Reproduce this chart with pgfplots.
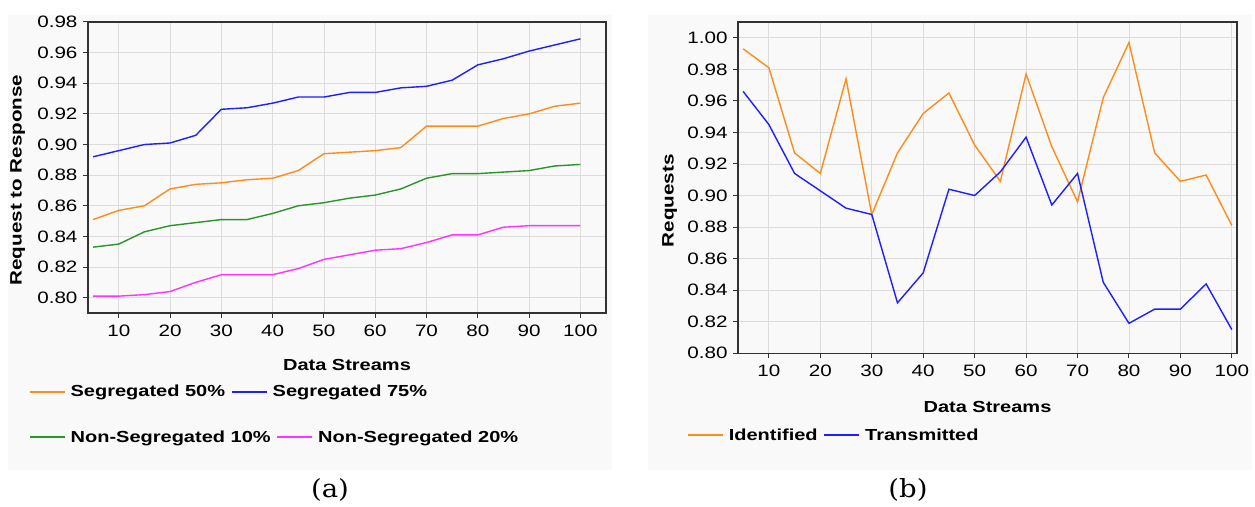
\documentclass[border=0pt]{standalone}
\usepackage{fontspec}
\setmainfont{Liberation Sans}[FakeStretch=1.25]
\newfontfamily\capfont{DejaVu Serif}[FakeStretch=1.1]
\usepackage{pgfplots}
\pgfplotsset{compat=1.18}
\definecolor{corange}{RGB}{255,140,26}
\definecolor{cblue}{RGB}{30,30,255}
\definecolor{cgreen}{RGB}{40,150,40}
\definecolor{cmag}{RGB}{255,50,255}
\definecolor{gridc}{RGB}{220,220,220}
\definecolor{axc}{RGB}{50,50,50}
\definecolor{bgc}{RGB}{249,249,249}
\pgfplotsset{
  common/.style={
    scale only axis,
    axis line style={axc, line width=1.3pt},
    grid=major,
    major grid style={gridc, line width=0.8pt},
    tick align=outside,
    tick pos=left,
    major tick length=5pt,
    tick style={axc, line width=1pt},
    xtick={10,20,30,40,50,60,70,80,90,100},
    tick label style={font=\fontsize{16.5}{19}\selectfont},
    xticklabel style={yshift=-3pt},
    /pgf/number format/assume math mode=true,
    yticklabel style={xshift=-2pt,/pgf/number format/fixed,/pgf/number format/fixed zerofill,/pgf/number format/precision=2},
    xlabel style={font=\bfseries\fontsize{16}{19}\selectfont},
    ylabel style={font=\bfseries\fontsize{16.5}{19}\selectfont},
    legend style={draw=none, fill=none, inner sep=0pt, font=\bfseries\fontsize{16}{19}\selectfont, anchor=west,
      /tikz/every odd column/.append style={column sep=3pt},
      /tikz/every even column/.append style={column sep=4pt}},
    legend columns=-1,
    legend cell align=left,
    legend image code/.code={\draw[##1,line width=1.5pt] (0pt,0pt) -- (35pt,0pt);},
    every axis plot/.append style={line width=1.4pt, mark=none},
  }
}
\begin{document}
\begin{tikzpicture}
\path[use as bounding box] (0,0) rectangle (1255pt,506pt);
\fill[bgc] (8pt,36pt) rectangle (612pt,491pt);
\fill[bgc] (648pt,36pt) rectangle (1252pt,491pt);
% Panel (a)
\begin{axis}[common,
  at={(88pt,193pt)}, anchor=south west,
  width=518pt, height=291pt,
  xmin=4, xmax=105, ymin=0.79, ymax=0.98,
  ytick={0.80,0.82,0.84,0.86,0.88,0.90,0.92,0.94,0.96,0.98},
  xlabel={Data Streams}, ylabel={Request to Response},
  xlabel style={at={(axis description cs:0.5,-0.179)}, anchor=center},
  ylabel style={at={(axis description cs:-0.136,0.457)}, anchor=center},
  legend style={at={(axis description cs:-0.114,-0.271)}},
]
\addplot[corange] coordinates {(5,0.851)(10,0.857)(15,0.860)(20,0.871)(25,0.874)(30,0.875)(35,0.877)(40,0.878)(45,0.883)(50,0.894)(55,0.895)(60,0.896)(65,0.898)(70,0.912)(75,0.912)(80,0.912)(85,0.917)(90,0.920)(95,0.925)(100,0.927)};
\addlegendentry{Segregated 50\%}
\addplot[cblue] coordinates {(5,0.892)(10,0.896)(15,0.900)(20,0.901)(25,0.906)(30,0.923)(35,0.924)(40,0.927)(45,0.931)(50,0.931)(55,0.934)(60,0.934)(65,0.937)(70,0.938)(75,0.942)(80,0.952)(85,0.956)(90,0.961)(95,0.965)(100,0.969)};
\addlegendentry{Segregated 75\%}
\addplot[cgreen,forget plot] coordinates {(5,0.833)(10,0.835)(15,0.843)(20,0.847)(25,0.849)(30,0.851)(35,0.851)(40,0.855)(45,0.860)(50,0.862)(55,0.865)(60,0.867)(65,0.871)(70,0.878)(75,0.881)(80,0.881)(85,0.882)(90,0.883)(95,0.886)(100,0.887)};
\addplot[cmag,forget plot] coordinates {(5,0.801)(10,0.801)(15,0.802)(20,0.804)(25,0.810)(30,0.815)(35,0.815)(40,0.815)(45,0.819)(50,0.825)(55,0.828)(60,0.831)(65,0.832)(70,0.836)(75,0.841)(80,0.841)(85,0.846)(90,0.847)(95,0.847)(100,0.847)};
\end{axis}
\begin{axis}[common, hide axis,
  at={(88pt,193pt)}, anchor=south west,
  width=518pt, height=291pt,
  xmin=4, xmax=105, ymin=0.79, ymax=0.98,
  legend style={at={(axis description cs:-0.114,-0.426)}},
]
\addlegendimage{cgreen,line width=1.4pt}
\addlegendentry{Non-Segregated 10\%}
\addlegendimage{cmag,line width=1.4pt}
\addlegendentry{Non-Segregated 20\%}
\end{axis}
% Panel (b)
\begin{axis}[common,
  at={(738pt,152.7pt)}, anchor=south west,
  width=499pt, height=331.3pt,
  xmin=4, xmax=101, ymin=0.80, ymax=1.01,
  ytick={0.80,0.82,0.84,0.86,0.88,0.90,0.92,0.94,0.96,0.98,1.00},
  xlabel={Data Streams}, ylabel={Requests},
  xlabel style={at={(axis description cs:0.5,-0.162)}, anchor=center},
  ylabel style={at={(axis description cs:-0.137,0.46)}, anchor=center},
  legend style={at={(axis description cs:-0.102,-0.247)}},
]
\addplot[corange] coordinates {(5,0.993)(10,0.981)(15,0.927)(20,0.914)(25,0.974)(30,0.888)(35,0.927)(40,0.952)(45,0.965)(50,0.932)(55,0.909)(60,0.977)(65,0.931)(70,0.896)(75,0.962)(80,0.997)(85,0.927)(90,0.909)(95,0.913)(100,0.881)};
\addlegendentry{Identified}
\addplot[cblue] coordinates {(5,0.966)(10,0.945)(15,0.914)(20,0.903)(25,0.892)(30,0.888)(35,0.832)(40,0.851)(45,0.904)(50,0.900)(55,0.915)(60,0.937)(65,0.894)(70,0.914)(75,0.845)(80,0.819)(85,0.828)(90,0.828)(95,0.844)(100,0.815)};
\addlegendentry{Transmitted}
\end{axis}
\node[font=\capfont\fontsize{25}{29}\selectfont] at (330pt,16pt) {(a)};
\node[font=\capfont\fontsize{25}{29}\selectfont] at (908pt,16pt) {(b)};
\end{tikzpicture}
\end{document}
